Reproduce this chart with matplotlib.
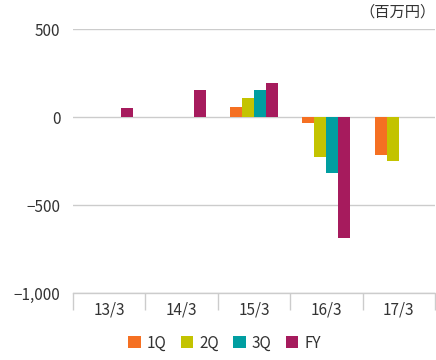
import matplotlib
matplotlib.use("Agg")
import matplotlib.pyplot as plt
import numpy as np
from matplotlib.patches import Patch

plt.rcParams['font.family'] = ['Noto Sans CJK JP', 'DejaVu Sans']

categories = ["13/3", "14/3", "15/3", "16/3", "17/3"]
series_names = ["1Q", "2Q", "3Q", "FY"]
q1 = [np.nan, np.nan, 57, -32, -214]
q2 = [np.nan, np.nan, 108, -225, -248]
q3 = [np.nan, np.nan, 153, -316, np.nan]
fy = [51, 153, 193, -686, np.nan]
colors = ["#F57022", "#C3C300", "#009EA1", "#A61B5D"]
yticks = [500, 0, -500, -1000]
ytick_labels = ["500", "0", "\u2212500", "\u22121,000"]

FS = 11
fig = plt.figure(figsize=(4.36, 3.6), dpi=100)
ax = fig.add_axes([73/436, 1 - 293/360, (435-73)/436, (293-29.3)/360])

x = np.arange(len(categories))
bw = 12/72.4
for i, (vals, c) in enumerate(zip([q1, q2, q3, fy], colors)):
    ax.bar(x + (i - 1.5) * bw, vals, width=bw, color=c, zorder=3)

ax.set_xlim(-0.5, len(categories) - 0.5)
ax.set_ylim(-1000, 500)
ax.set_yticks(yticks)
ax.set_yticklabels(ytick_labels)
ax.yaxis.grid(True, color="#cccccc", linewidth=1, zorder=0)
ax.tick_params(axis='y', length=0, pad=9, labelsize=FS, labelcolor="#333333")
for s in ["left", "right", "top"]:
    ax.spines[s].set_visible(False)
ax.spines["bottom"].set_color("#cccccc")
ax.spines["bottom"].set_linewidth(1)

ax.set_xticks(np.arange(-0.5, len(categories)), minor=False)
ax.set_xticklabels([])
ax.tick_params(axis='x', which='major', length=12, color="#cccccc", width=1)
ax.set_xticks(x, minor=True)
ax.set_xticklabels(categories, minor=True)
ax.tick_params(axis='x', which='minor', length=0, pad=6, labelsize=FS, labelcolor="#333333")

fig.text(0.998, 1 - 12/360, "（百万円）", ha="right", va="center", fontsize=FS, color="#333333")

handles = [Patch(facecolor=c, edgecolor='none') for c in colors]
fig.legend(handles, series_names, loc="center", bbox_to_anchor=(0.515, 1 - 343/360), ncol=4,
           frameon=False, fontsize=FS, handlelength=0.8, handleheight=0.8, handletextpad=0.4,
           columnspacing=0.95, labelcolor="#333333")

fig.savefig("out.png", dpi=100)
